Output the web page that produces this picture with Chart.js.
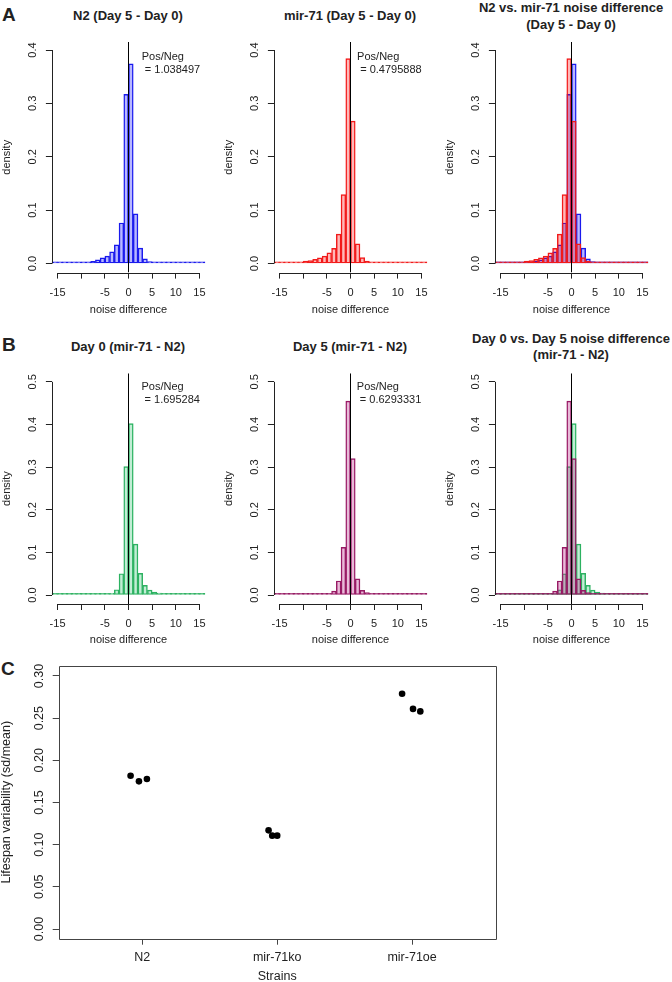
<!DOCTYPE html>
<html lang="en">
<head>
<meta charset="UTF-8">
<title>mir-71 noise difference and lifespan variability</title>
<script src="https://cdn.jsdelivr.net/npm/chart.js"></script>
<style>
  body { margin: 0; background: #fff; overflow: hidden; font-family: "Liberation Sans", Arial, sans-serif; color: #222; }
  .pagina { position: relative; width: 672px; height: 982px; overflow: hidden; }
  canvas { position: absolute; }
  .titulo { position: absolute; width: 260px; text-align: center; font-weight: bold; font-size: 13px; line-height: 16.8px; white-space: nowrap; }
  .letra { position: absolute; font-weight: bold; font-size: 19px; line-height: 19px; }
</style>
</head>
<body>
<div class="pagina">
  <div class="letra" style="left:2px; top:5px;">A</div>
  <div class="letra" style="left:2px; top:335px;">B</div>
  <div class="letra" style="left:1px; top:659px;">C</div>

  <div class="titulo" style="left:-2px; top:7.5px;">N2 (Day 5 - Day 0)</div>
  <div class="titulo" style="left:220px; top:7.5px;">mir-71 (Day 5 - Day 0)</div>
  <div class="titulo" style="left:441px; top:0px;">N2 vs. mir-71 noise difference<br>(Day 5 - Day 0)</div>
  <div class="titulo" style="left:-2px; top:338.5px;">Day 0 (mir-71 - N2)</div>
  <div class="titulo" style="left:220px; top:338.5px;">Day 5 (mir-71 - N2)</div>
  <div class="titulo" style="left:441px; top:330.5px;">Day 0 vs. Day 5 noise difference<br>(mir-71 - N2)</div>

  <canvas id="a1" width="222" height="300" style="left:1px; top:30px;"></canvas>
  <canvas id="a2" width="222" height="300" style="left:223px; top:30px;"></canvas>
  <canvas id="a3" width="222" height="300" style="left:444px; top:30px;"></canvas>
  <canvas id="b1" width="222" height="300" style="left:1px; top:360px;"></canvas>
  <canvas id="b2" width="222" height="300" style="left:223px; top:360px;"></canvas>
  <canvas id="b3" width="222" height="300" style="left:444px; top:360px;"></canvas>
  <canvas id="c" width="520" height="345" style="left:0px; top:650px;"></canvas>
</div>

<script>
    // histogram bins (width 1) - bin centres
    const binCenters = [-16.5, -15.5, -14.5, -13.5, -12.5, -11.5, -10.5, -9.5, -8.5, -7.5, -6.5, -5.5, -4.5, -3.5, -2.5, -1.5,
        -0.5, 0.5, 1.5, 2.5, 3.5, 4.5, 5.5, 6.5, 7.5, 8.5, 9.5, 10.5, 11.5, 12.5, 13.5, 14.5, 15.5, 16.5];

    // densities
    const n2Day5 = [0.0003, 0.0004, 0.0004, 0.0005, 0.0005, 0.0006, 0.0008, 0.0012, 0.0025, 0.0043, 0.0068, 0.0106, 0.014, 0.022, 0.035, 0.076,
        0.317, 0.374, 0.093, 0.029, 0.0087, 0.0037, 0.002, 0.0012, 0.0008, 0.0006, 0.0005, 0.0004, 0.0003, 0.0003, 0.0003, 0.0003, 0.0003, 0.0003];
    const mir71Day5 = [0.0005, 0.0006, 0.0008, 0.001, 0.0015, 0.002, 0.003, 0.0045, 0.0056, 0.008, 0.0106, 0.014, 0.02, 0.0286, 0.055, 0.129,
        0.384, 0.267, 0.037, 0.011, 0.0045, 0.0025, 0.0015, 0.001, 0.0007, 0.0005, 0.0004, 0.0004, 0.0003, 0.0003, 0.0003, 0.0003, 0.0003, 0.0003];
    const day0Diff = [0.0003, 0.0003, 0.0003, 0.0004, 0.0004, 0.0005, 0.0005, 0.0006, 0.0007, 0.0008, 0.001, 0.0015, 0.002, 0.004, 0.0125, 0.05,
        0.301, 0.402, 0.1195, 0.051, 0.0227, 0.0117, 0.007, 0.0047, 0.003, 0.002, 0.0015, 0.001, 0.0008, 0.0006, 0.0005, 0.0004, 0.0003, 0.0003];
    const day5Diff = [0.0003, 0.0003, 0.0003, 0.0003, 0.0003, 0.0004, 0.0005, 0.0006, 0.0007, 0.0009, 0.0012, 0.0018, 0.003, 0.0094, 0.033, 0.112,
        0.455, 0.32, 0.038, 0.011, 0.0055, 0.003, 0.002, 0.0015, 0.001, 0.0008, 0.0006, 0.0005, 0.0004, 0.0003, 0.0003, 0.0003, 0.0003, 0.0003];

    const ratioN2 = '1.038497';
    const ratioMir71 = '0.4795888';
    const ratioDay0 = '1.695284';
    const ratioDay5 = '0.6293331';

    const xTicks = [-15, -10, -5, 0, 5, 10, 15];
    const xTickLabels = ['-15', '', '-5', '0', '5', '10', '15'];
    const yTicksA = [0, 0.1, 0.2, 0.3, 0.4];
    const yLabelsA = ['0.0', '0.1', '0.2', '0.3', '0.4'];
    const yTicksB = [0, 0.1, 0.2, 0.3, 0.4, 0.5];
    const yLabelsB = ['0.0', '0.1', '0.2', '0.3', '0.4', '0.5'];

    // panel C
    const strains = ['N2', 'mir-71ko', 'mir-71oe'];
    const strainPos = [1, 2, 3];
    const jitterN2 = [0.913, 0.975, 1.034];
    const jitterKo = [1.936, 1.963, 2.0];
    const jitterOe = [2.926, 3.007, 3.061];
    const varN2 = [0.1818, 0.1751, 0.1779];
    const varKo = [0.117, 0.1107, 0.1107];
    const varOe = [0.279, 0.261, 0.258];
    const yTicksC = [0, 0.05, 0.1, 0.15, 0.2, 0.25, 0.3];
    const yLabelsC = ['0.00', '0.05', '0.10', '0.15', '0.20', '0.25', '0.30'];

    Chart.defaults.font.family = '"Liberation Sans", Arial, sans-serif';
    Chart.defaults.color = '#222';

    const cores = {
        azul: { line: 'rgb(30,30,235)', fill: 'rgba(0,0,255,0.28)' },
        vermelho: { line: 'rgb(240,30,30)', fill: 'rgba(255,0,0,0.28)' },
        verde: { line: 'rgb(50,178,100)', fill: 'rgba(0,180,80,0.24)' },
        magenta: { line: 'rgb(150,30,100)', fill: 'rgba(170,0,110,0.27)' }
    };

    // R style axes: axis line only between first and last tick, rotated y labels, optional box + note
    function eixosR(cfg) {
        return {
            id: 'eixosR',
            afterDraw(chart) {
                const { ctx, chartArea: a, scales: { x, y } } = chart;
                ctx.save();
                ctx.strokeStyle = cfg.cor;
                ctx.lineWidth = 1;
                ctx.beginPath();
                if (cfg.caixa) {
                    ctx.rect(Math.round(a.left) + 0.5, Math.round(a.top) + 0.5, Math.round(a.right - a.left), Math.round(a.bottom - a.top));
                } else {
                    const yb = Math.round(a.bottom) + 0.5;
                    const xl = Math.round(a.left) + 0.5;
                    ctx.moveTo(x.getPixelForValue(cfg.xTicks[0]), yb);
                    ctx.lineTo(x.getPixelForValue(cfg.xTicks[cfg.xTicks.length - 1]), yb);
                    ctx.moveTo(xl, y.getPixelForValue(cfg.yTicks[0]));
                    ctx.lineTo(xl, y.getPixelForValue(cfg.yTicks[cfg.yTicks.length - 1]));
                }
                ctx.stroke();

                ctx.fillStyle = '#222';
                ctx.font = cfg.fonte;
                ctx.textAlign = 'center';
                ctx.textBaseline = 'alphabetic';
                cfg.yTicks.forEach((v, i) => {
                    ctx.save();
                    ctx.translate(a.left - cfg.gap, y.getPixelForValue(v));
                    ctx.rotate(-Math.PI / 2);
                    ctx.fillText(cfg.yLabels[i], 0, 0);
                    ctx.restore();
                });

                if (cfg.nota) {
                    ctx.textAlign = 'left';
                    ctx.textBaseline = 'middle';
                    const px = x.getPixelForValue(cfg.nota.x);
                    const py = y.getPixelForValue(cfg.nota.y);
                    cfg.nota.linhas.forEach((t, i) => ctx.fillText(t, px, py + i * 13));
                }
                ctx.restore();
            }
        };
    }

    function histograma(id, series, eixo, nota) {
        const datasets = [{
            type: 'line',
            data: [{ x: 0, y: eixo.min }, { x: 0, y: eixo.max }],
            borderColor: '#000',
            borderWidth: 1,
            pointRadius: 0,
            order: 0
        }];
        series.forEach((s, i) => {
            datasets.push({
                data: binCenters.map((c, k) => ({ x: c, y: s.valores[k] })),
                backgroundColor: s.cor.fill,
                borderColor: s.cor.line,
                borderWidth: 0.8,
                borderSkipped: false,
                minBarLength: 1.6,
                barPercentage: 1,
                categoryPercentage: 1,
                grouped: false,
                clip: 0,
                order: i + 1
            });
        });

        new Chart(document.getElementById(id), {
            type: 'bar',
            data: { datasets: datasets },
            options: {
                responsive: false,
                animation: false,
                layout: { padding: { left: 0, right: 17.9, top: eixo.topPad, bottom: 0 } },
                plugins: { legend: { display: false }, tooltip: { enabled: false } },
                scales: {
                    x: {
                        type: 'linear',
                        min: -16.2,
                        max: 16.2,
                        offset: false,
                        afterBuildTicks: s => { s.ticks = xTicks.map(v => ({ value: v })); },
                        afterFit: s => { s.height = eixo.xAxisH; },
                        grid: { offset: false, drawOnChartArea: false, drawTicks: true, tickLength: 6, color: '#222' },
                        border: { display: false },
                        ticks: { autoSkip: false, maxRotation: 0, padding: 7.5, font: { size: 11 }, callback: (v, i) => xTickLabels[i] },
                        title: { display: true, text: 'noise difference', font: { size: 11 }, padding: { top: 0, bottom: 13 } }
                    },
                    y: {
                        type: 'linear',
                        min: eixo.min,
                        max: eixo.max,
                        afterBuildTicks: s => { s.ticks = eixo.ticks.map(v => ({ value: v })); },
                        afterFit: s => { s.width = 50.9; },
                        grid: { drawOnChartArea: false, drawTicks: true, tickLength: 6, color: '#222' },
                        border: { display: false },
                        ticks: { display: false },
                        title: { display: true, text: 'density', font: { size: 11, lineHeight: 1 }, padding: { top: 0, bottom: 0 } }
                    }
                }
            },
            plugins: [eixosR({ cor: '#222', xTicks: xTicks, yTicks: eixo.ticks, yLabels: eixo.labels, gap: 15.5, fonte: '11px "Liberation Sans", Arial, sans-serif', nota: nota })]
        });
    }

    const eixoA = { min: -0.017, max: 0.415, ticks: yTicksA, labels: yLabelsA, topPad: 12, xAxisH: 57.4 };
    const eixoB = { min: -0.021, max: 0.52, ticks: yTicksB, labels: yLabelsB, topPad: 13.3, xAxisH: 56 };

    histograma('a1', [{ valores: n2Day5, cor: cores.azul }], eixoA, { x: 2.8, y: 0.387, linhas: ['Pos/Neg', ' = ' + ratioN2] });
    histograma('a2', [{ valores: mir71Day5, cor: cores.vermelho }], eixoA, { x: 1.4, y: 0.387, linhas: ['Pos/Neg', ' = ' + ratioMir71] });
    histograma('a3', [{ valores: mir71Day5, cor: cores.vermelho }, { valores: n2Day5, cor: cores.azul }], eixoA, null);
    histograma('b1', [{ valores: day0Diff, cor: cores.verde }], eixoB, { x: 2.75, y: 0.487, linhas: ['Pos/Neg', ' = ' + ratioDay0] });
    histograma('b2', [{ valores: day5Diff, cor: cores.magenta }], eixoB, { x: 1.33, y: 0.487, linhas: ['Pos/Neg', ' = ' + ratioDay5] });
    histograma('b3', [{ valores: day5Diff, cor: cores.magenta }, { valores: day0Diff, cor: cores.verde }], eixoB, null);

    // panel C - lifespan variability per strain
    const pontos = [];
    [[jitterN2, varN2], [jitterKo, varKo], [jitterOe, varOe]].forEach(([xs, ys]) => {
        xs.forEach((xv, i) => pontos.push({ x: xv, y: ys[i] }));
    });

    new Chart(document.getElementById('c'), {
        type: 'scatter',
        data: {
            datasets: [{
                data: pontos,
                backgroundColor: '#000',
                borderWidth: 0,
                pointRadius: 3.3
            }]
        },
        options: {
            responsive: false,
            animation: false,
            layout: { padding: { left: 0, right: 24.3, top: 15.7, bottom: 0 } },
            plugins: { legend: { display: false }, tooltip: { enabled: false } },
            scales: {
                x: {
                    type: 'linear',
                    min: 0.38,
                    max: 3.62,
                    afterBuildTicks: s => { s.ticks = strainPos.map(v => ({ value: v })); },
                    afterFit: s => { s.height = 56.3; },
                    grid: { drawOnChartArea: false, drawTicks: true, tickLength: 6, color: '#444' },
                    border: { display: false },
                    ticks: { autoSkip: false, maxRotation: 0, padding: 5.8, font: { size: 12.5 }, callback: (v, i) => strains[i] },
                    title: { display: true, text: 'Strains', font: { size: 12.5 }, padding: { top: 0, bottom: 10.8 } }
                },
                y: {
                    type: 'linear',
                    min: -0.0115,
                    max: 0.3122,
                    afterBuildTicks: s => { s.ticks = yTicksC.map(v => ({ value: v })); },
                    afterFit: s => { s.width = 58.7; },
                    grid: { drawOnChartArea: false, drawTicks: true, tickLength: 6, color: '#444' },
                    border: { display: false },
                    ticks: { display: false },
                    title: { display: true, text: 'Lifespan variability (sd/mean)', font: { size: 12.5, lineHeight: 1 }, padding: { top: 0.5, bottom: 0 } }
                }
            }
        },
        plugins: [eixosR({ cor: '#444', caixa: true, yTicks: yTicksC, yLabels: yLabelsC, gap: 15.4, fonte: '12.5px "Liberation Sans", Arial, sans-serif', nota: null })]
    });
</script>
</body>
</html>
